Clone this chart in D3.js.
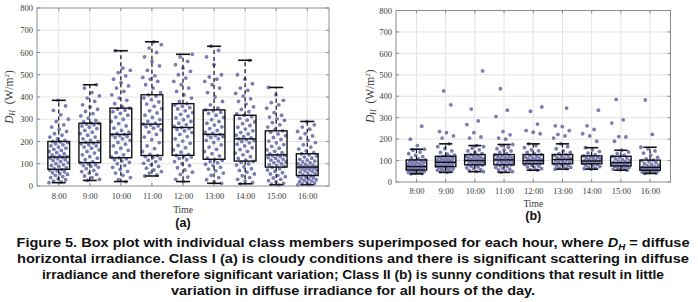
<!DOCTYPE html>
<html><head><meta charset="utf-8">
<script src="https://cdn.jsdelivr.net/npm/d3@7"></script>
<style>
html,body{margin:0;padding:0;background:#fff;}
svg{display:block;}
</style></head>
<body>
<script>
// ---------- DATA ----------
const hours = ["8:00","9:00","10:00","11:00","12:00","13:00","14:00","15:00","16:00"];
const yTicks = [0,100,200,300,400,500,600,700,800];

// Class I (a) box statistics
const aLow    = [15, 25, 20, 45, 20, 12, 10, 5, 5];
const aQ1     = [75, 105, 127, 137, 138, 120, 112, 85, 47];
const aMedian = [130, 195, 232, 278, 263, 232, 212, 140, 85];
const aQ3     = [200, 282, 350, 410, 370, 342, 318, 248, 145];
const aHigh   = [385, 455, 608, 648, 592, 628, 565, 443, 290];

// Class I (a) individual members
const aPts0800 = [15,18,22,28,32,38,42,48,52,55,60,64,68,72,74,78,82,88,92,96,100,105,110,114,118,122,125,128,130,132,135,140,145,150,155,160,165,170,175,180,185,190,195,198,200,205,212,220,228,235,245,255,265,275,290,300,320,340,360,385];
const aPts0900 = [25,30,38,45,52,58,65,70,78,84,88,92,96,100,104,110,118,125,132,140,148,155,162,170,175,180,185,190,193,196,200,205,212,220,228,235,242,250,258,264,270,275,278,281,283,288,295,305,315,325,335,345,355,365,380,395,405,420,440,455];
const aPts1000 = [20,28,38,48,58,66,75,84,92,100,106,112,118,122,126,130,140,150,160,170,180,188,196,205,212,218,222,226,230,232,236,242,250,260,270,280,290,300,310,318,326,334,340,346,350,358,370,385,395,410,425,440,450,465,480,495,510,520,530,608];
const aPts1100 = [45,50,58,65,72,80,88,95,102,110,116,122,128,132,136,142,155,168,180,195,208,220,232,242,252,260,266,270,274,278,282,290,298,308,318,328,338,348,358,368,378,388,396,404,410,420,440,455,470,480,488,495,520,540,560,580,600,620,635,648];
const aPts1200 = [20,30,40,52,62,72,82,92,100,110,118,124,130,134,137,142,152,162,172,182,192,202,212,222,232,240,248,254,258,263,268,275,282,290,298,306,314,322,330,338,346,352,358,364,370,380,395,410,425,440,455,470,485,500,515,530,545,560,580,592];
const aPts1300 = [12,18,28,38,48,58,68,76,84,92,98,104,110,115,119,125,135,145,155,165,175,185,195,205,212,218,222,226,229,232,236,242,250,258,266,274,282,290,298,308,318,326,332,338,342,350,365,380,400,420,440,455,470,480,490,500,545,580,610,628];
const aPts1400 = [10,15,22,30,38,46,54,62,70,78,86,94,100,106,111,116,124,132,140,148,156,164,172,180,188,194,200,204,208,212,216,222,228,234,240,248,256,264,272,280,288,296,304,312,318,324,334,344,356,368,380,392,404,416,430,440,460,480,500,565];
const aPts1500 = [5,8,12,18,24,30,36,42,48,54,60,66,72,78,84,88,92,96,100,104,108,112,116,120,124,128,132,135,138,140,144,150,156,162,170,178,186,194,202,210,218,226,234,242,248,255,265,275,285,295,302,310,318,330,350,365,375,385,410,443];
const aPts1600 = [5,7,10,13,16,19,22,25,28,31,34,37,40,43,46,50,54,58,62,65,68,71,74,77,79,81,83,84,85,86,88,91,94,97,100,104,108,112,116,120,125,130,135,140,145,150,158,166,175,185,195,205,215,225,235,245,255,265,275,290];

// Class II (b) box statistics
const bLow    = [38, 45, 48, 45, 55, 60, 60, 55, 40];
const bQ1     = [56, 72, 80, 80, 85, 85, 85, 75, 55];
const bMedian = [72, 92, 100, 103, 100, 105, 98, 90, 68];
const bQ3     = [103, 120, 128, 128, 128, 128, 122, 120, 102];
const bHigh   = [153, 178, 170, 175, 178, 178, 160, 148, 162];

// Class II (b) individual members
const bPts0800 = [38,40,42,44,46,48,50,52,54,55,56,58,60,62,64,66,68,70,71,72,73,75,78,80,82,85,88,90,92,95,98,100,103,108,112,118,125,132,140,148,153,170,200,260];
const bPts0900 = [45,48,50,52,55,58,60,62,65,68,70,72,74,76,78,80,82,85,88,90,92,94,96,98,100,102,105,108,110,112,115,118,120,125,130,138,145,155,165,178,205,215,230,235,360,425];
const bPts1000 = [48,50,54,58,62,66,70,74,78,80,82,85,88,90,92,95,97,100,102,104,106,108,110,112,115,118,120,124,128,132,138,145,150,158,165,170,205,210,230,268,285,340,518];
const bPts1100 = [45,48,52,56,60,64,68,72,76,80,82,85,88,90,93,96,99,101,103,105,108,110,112,115,118,120,124,128,132,138,145,150,155,162,170,175,200,205,220,235,305,335,435];
const bPts1200 = [55,58,62,66,70,74,78,82,85,88,90,93,96,98,100,102,105,108,110,113,116,120,124,128,132,138,145,150,160,170,178,225,232,240,270,330,350];
const bPts1300 = [60,62,65,68,72,75,78,82,85,88,90,93,96,100,103,105,108,110,113,116,120,124,128,132,138,145,155,165,178,205,215,222,240,258,262,345];
const bPts1400 = [60,62,65,68,72,75,78,82,85,87,90,92,95,98,100,102,105,108,110,113,116,120,122,128,135,142,150,160,190,215,225,245,262,335];
const bPts1500 = [55,57,60,62,65,68,70,73,75,78,80,83,86,88,90,92,95,98,100,104,108,112,116,120,125,132,140,148,190,210,212,275,290,385];
const bPts1600 = [40,42,44,46,48,50,52,54,55,57,59,61,63,65,67,68,70,72,75,78,82,86,90,95,100,102,108,115,125,135,145,155,162,222,383];

const caption = [
  "Figure 5. Box plot with individual class members superimposed for each hour, where |D|H| = diffuse",
  "horizontal irradiance. Class I (a) is cloudy conditions and there is significant scattering in diffuse",
  "irradiance and therefore significant variation; Class II (b) is sunny conditions that result in little",
  "variation in diffuse irradiance for all hours of the day."
];

// ---------- DRAW ----------
const W = 698, H = 302;
const svg = d3.select("body").append("svg").attr("width", W).attr("height", H);

const panels = [
  { low:aLow, q1:aQ1, med:aMedian, q3:aQ3, high:aHigh,
    pts:[aPts0800,aPts0900,aPts1000,aPts1100,aPts1200,aPts1300,aPts1400,aPts1500,aPts1600],
    x0:37, x1:329, y0:186, y1:8, tag:"(a)", timeY:213, tagY:227, ylabX:13, pad:7 },
  { low:bLow, q1:bQ1, med:bMedian, q3:bQ3, high:bHigh,
    pts:[bPts0800,bPts0900,bPts1000,bPts1100,bPts1200,bPts1300,bPts1400,bPts1500,bPts1600],
    x0:396, x1:670.5, y0:182, y1:10.5, tag:"(b)", timeY:207, tagY:220, ylabX:374, pad:5.5 }
];

const serif = "'Liberation Serif','Times New Roman',serif";

panels.forEach((p, pi) => {
  const g = svg.append("g");
  const x = d3.scaleLinear().domain([0.3, 9.7]).range([p.x0, p.x1]);
  const y = d3.scaleLinear().domain([0, 800]).range([p.y0, p.y1]);
  const step = x(2) - x(1);
  const boxW = step * 0.7, capW = step * 0.45;

  // grid
  g.append("g").selectAll("line").data(yTicks.slice(1, -1)).join("line")
    .attr("x1", p.x0).attr("x2", p.x1).attr("y1", d => y(d)).attr("y2", d => y(d))
    .attr("stroke", "#e3e3e3").attr("stroke-width", 1);
  g.append("g").selectAll("line").data(hours).join("line")
    .attr("x1", (d, i) => x(i + 1)).attr("x2", (d, i) => x(i + 1))
    .attr("y1", p.y0).attr("y2", p.y1)
    .attr("stroke", "#e3e3e3").attr("stroke-width", 1);

  // axes
  const yAx = d3.axisLeft(y).tickValues(yTicks).tickSize(0).tickPadding(4);
  const ya = g.append("g").attr("transform", `translate(${p.x0},0)`).call(yAx);
  ya.select(".domain").remove();
  ya.selectAll("text").attr("font-family", serif).attr("font-size", 8.5).attr("fill", "#3a3a3a");

  const xAx = d3.axisBottom(x).tickValues(d3.range(1, 10)).tickFormat((d) => hours[d - 1]).tickSize(0).tickPadding(p.pad);
  const xa = g.append("g").attr("transform", `translate(0,${p.y0})`).call(xAx);
  xa.select(".domain").remove();
  xa.selectAll("text").attr("font-family", serif).attr("font-size", 8.5).attr("fill", "#3a3a3a");

  // inner ticks
  const tk = g.append("g").attr("stroke", "#8a8a8a").attr("stroke-width", 1);
  yTicks.forEach(t => {
    tk.append("line").attr("x1", p.x0).attr("x2", p.x0 + 3).attr("y1", y(t)).attr("y2", y(t));
    tk.append("line").attr("x1", p.x1).attr("x2", p.x1 - 3).attr("y1", y(t)).attr("y2", y(t));
  });
  hours.forEach((h, i) => {
    tk.append("line").attr("x1", x(i + 1)).attr("x2", x(i + 1)).attr("y1", p.y0).attr("y2", p.y0 - 3);
    tk.append("line").attr("x1", x(i + 1)).attr("x2", x(i + 1)).attr("y1", p.y1).attr("y2", p.y1 + 3);
  });

  // points
  const ptsG = g.append("g");
  p.pts.forEach((arr, hi) => {
    ptsG.selectAll(null).data(arr).join("circle")
      .attr("cx", (d, i) => x(hi + 1) + ((((i * 0.6180339 + hi * 0.377 + pi * 0.21) % 1) - 0.5) * boxW * 0.9))
      .attr("cy", d => y(d))
      .attr("r", 1.9)
      .attr("fill", "#7c7cb4");
  });

  // boxes
  const bx = g.append("g").attr("fill", "none").attr("stroke", "#111");
  hours.forEach((h, i) => {
    const cx = x(i + 1);
    bx.append("line").attr("x1", cx).attr("x2", cx).attr("y1", y(p.q3[i])).attr("y2", y(p.high[i]))
      .attr("stroke-dasharray", "4,3").attr("stroke-width", 1.2);
    bx.append("line").attr("x1", cx).attr("x2", cx).attr("y1", y(p.q1[i])).attr("y2", y(p.low[i]))
      .attr("stroke-dasharray", "4,3").attr("stroke-width", 1.2);
    bx.append("line").attr("x1", cx - capW / 2).attr("x2", cx + capW / 2).attr("y1", y(p.high[i])).attr("y2", y(p.high[i])).attr("stroke-width", 1.6);
    bx.append("line").attr("x1", cx - capW / 2).attr("x2", cx + capW / 2).attr("y1", y(p.low[i])).attr("y2", y(p.low[i])).attr("stroke-width", 1.6);
    bx.append("rect").attr("x", cx - boxW / 2).attr("width", boxW)
      .attr("y", y(p.q3[i])).attr("height", y(p.q1[i]) - y(p.q3[i])).attr("stroke-width", 1.4);
    bx.append("line").attr("x1", cx - boxW / 2).attr("x2", cx + boxW / 2).attr("y1", y(p.med[i])).attr("y2", y(p.med[i])).attr("stroke-width", 1.4);
  });

  // frame
  g.append("rect").attr("x", p.x0).attr("y", p.y1).attr("width", p.x1 - p.x0).attr("height", p.y0 - p.y1)
    .attr("fill", "none").attr("stroke", "#8c8c8c").attr("stroke-width", 1);

  // axis titles
  g.append("text").attr("x", (p.x0 + p.x1) / 2).attr("y", p.timeY).attr("text-anchor", "middle")
    .attr("font-family", serif).attr("font-size", 9.5).attr("fill", "#3a3a3a").text("Time");
  const yl = g.append("text").attr("transform", `translate(${p.ylabX},${(p.y0 + p.y1) / 2}) rotate(-90)`)
    .attr("text-anchor", "middle").attr("font-family", serif).attr("font-size", 11.5).attr("fill", "#3a3a3a");
  yl.append("tspan").attr("font-style", "italic").text("D");
  yl.append("tspan").attr("font-style", "italic").attr("font-size", 7.5).attr("dy", 2).text("H");
  yl.append("tspan").attr("dy", -2).text("\u2002(W/m");
  yl.append("tspan").attr("font-size", 7).attr("dy", -4.5).text("2");
  yl.append("tspan").attr("dy", 4.5).text(")");

  // panel tag
  g.append("text").attr("x", (p.x0 + p.x1) / 2).attr("y", p.tagY).attr("text-anchor", "middle")
    .attr("font-family", "'Liberation Sans',Arial,sans-serif").attr("font-weight", "bold").attr("font-size", 12.5)
    .attr("fill", "#111").text(p.tag);
});

// caption
const capFont = "'Liberation Sans Narrow','Arial Narrow','Liberation Sans',Arial,sans-serif";
const capY = [247, 263, 279, 295];
const capLen = [673, 672, 622, 364];
caption.forEach((line, i) => {
  const t = svg.append("text").attr("x", 353).attr("y", capY[i]).attr("text-anchor", "middle")
    .attr("font-family", capFont).attr("font-weight", "bold").attr("font-size", 13.5).attr("fill", "#111")
    .attr("textLength", capLen[i]).attr("lengthAdjust", "spacingAndGlyphs");
  const parts = line.split("|");
  if (parts.length === 1) { t.text(line); }
  else {
    t.append("tspan").text(parts[0]);
    t.append("tspan").attr("font-style", "italic").text(parts[1]);
    t.append("tspan").attr("font-style", "italic").attr("font-size", 9).attr("dy", 3).text(parts[2]);
    t.append("tspan").attr("dy", -3).text(parts[3]);
  }
});
</script>
</body></html>
